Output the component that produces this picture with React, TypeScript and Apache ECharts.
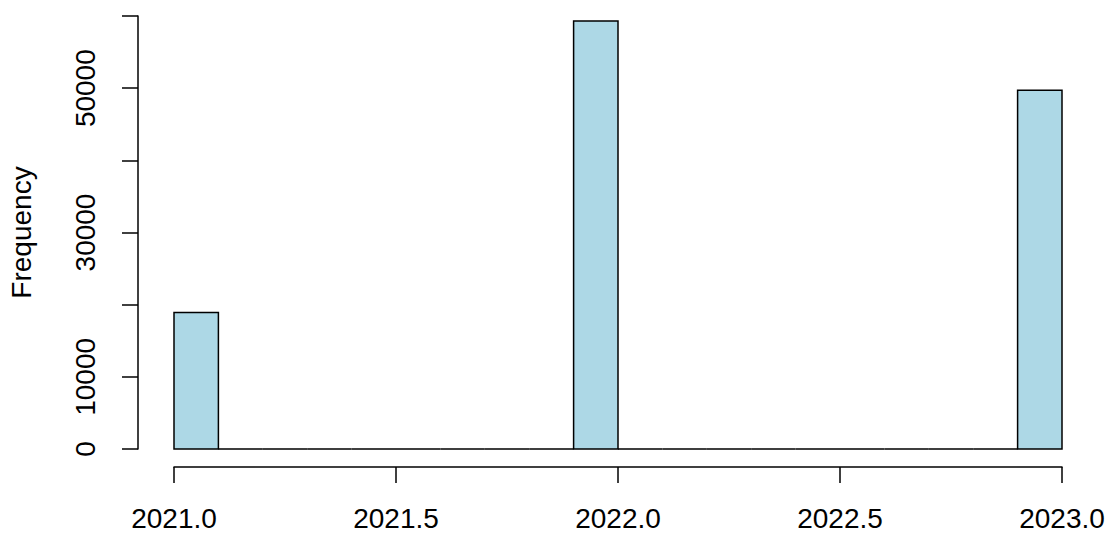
import React, { useEffect, useRef } from "react";
import * as echarts from "echarts";

// Histogram bins (left and right edges, width 0.1) and their counts
const binStarts = [
  2021.0, 2021.1, 2021.2, 2021.3, 2021.4, 2021.5, 2021.6, 2021.7, 2021.8, 2021.9,
  2022.0, 2022.1, 2022.2, 2022.3, 2022.4, 2022.5, 2022.6, 2022.7, 2022.8, 2022.9,
];
const binEnds = [
  2021.1, 2021.2, 2021.3, 2021.4, 2021.5, 2021.6, 2021.7, 2021.8, 2021.9, 2022.0,
  2022.1, 2022.2, 2022.3, 2022.4, 2022.5, 2022.6, 2022.7, 2022.8, 2022.9, 2023.0,
];
const counts = [
  18900, 0, 0, 0, 0, 0, 0, 0, 0, 59300,
  0, 0, 0, 0, 0, 0, 0, 0, 0, 49700,
];

// Axis tick labels (empty strings are ticks drawn without a label)
const xTickValues = [2021.0, 2021.5, 2022.0, 2022.5, 2023.0];
const xTickLabels = ["2021.0", "2021.5", "2022.0", "2022.5", "2023.0"];
const yTickValues = [0, 10000, 20000, 30000, 40000, 50000, 60000];
const yTickLabels = ["0", "10000", "", "30000", "", "50000", ""];

const FONT = "'Liberation Sans', Arial, sans-serif";
const FONT_SIZE = 28;

export default function App() {
  const ref = useRef<HTMLDivElement>(null);

  useEffect(() => {
    if (!ref.current) return;
    const chart = echarts.init(ref.current, undefined, { renderer: "svg" });

    const data = binStarts.map((s, i) => [s, binEnds[i], counts[i]]);

    const labelFor = (values: number[], labels: string[]) => (v: number) => {
      const idx = values.findIndex((t) => Math.abs(t - v) < 1e-6);
      return idx >= 0 ? labels[idx] : "";
    };

    chart.setOption({
      animation: false,
      backgroundColor: "#ffffff",
      textStyle: { fontFamily: FONT },
      grid: {
        left: 174,
        right: 49,
        top: 16,
        bottom: 85,
        outerBoundsMode: "none",
      },
      xAxis: {
        type: "value",
        min: 2021,
        max: 2023,
        interval: 0.5,
        offset: 18,
        splitLine: { show: false },
        axisLine: { show: true, onZero: false, lineStyle: { color: "#000", width: 1.5 } },
        axisTick: { show: true, length: 16, lineStyle: { color: "#000", width: 1.5 } },
        axisLabel: {
          margin: 37,
          fontSize: FONT_SIZE,
          fontFamily: FONT,
          color: "#000",
          formatter: labelFor(xTickValues, xTickLabels),
        },
      },
      yAxis: {
        type: "value",
        min: 0,
        max: 60000,
        interval: 10000,
        offset: 36,
        name: "Frequency",
        nameLocation: "middle",
        nameGap: 103,
        nameTextStyle: { fontSize: FONT_SIZE, fontFamily: FONT, color: "#000" },
        splitLine: { show: false },
        axisLine: { show: true, onZero: false, lineStyle: { color: "#000", width: 1.5 } },
        axisTick: { show: true, length: 16, lineStyle: { color: "#000", width: 1.5 } },
        axisLabel: {
          rotate: 90,
          margin: 39,
          fontSize: FONT_SIZE,
          fontFamily: FONT,
          color: "#000",
          formatter: labelFor(yTickValues, yTickLabels),
        },
      },
      series: [
        {
          type: "custom",
          data,
          encode: { x: [0, 1], y: 2 },
          renderItem: (params: any, api: any) => {
            const topLeft = api.coord([api.value(0), api.value(2)]);
            const bottomRight = api.coord([api.value(1), 0]);
            return {
              type: "rect",
              shape: {
                x: topLeft[0],
                y: topLeft[1],
                width: bottomRight[0] - topLeft[0],
                height: bottomRight[1] - topLeft[1],
              },
              style: { fill: "#ADD8E6", stroke: "#000", lineWidth: 1.5 },
            };
          },
        },
      ],
    });

    return () => chart.dispose();
  }, []);

  return (
    <div
      ref={ref}
      style={{ position: "fixed", left: 0, top: 0, width: 1111, height: 534 }}
    />
  );
}
